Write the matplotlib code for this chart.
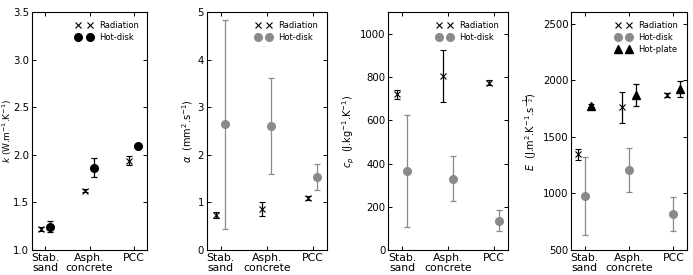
import matplotlib
matplotlib.use("Agg")
import matplotlib.pyplot as plt
from matplotlib.lines import Line2D
import numpy as np

categories = ["Stab.\nsand", "Asph.\nconcrete", "PCC"]

k_rad = [1.224, 1.624, 1.94]
k_rad_err = [0.02, 0.015, 0.045]
k_hd = [1.245, 1.866, 2.094]
k_hd_err = [0.06, 0.10, 0.02]

a_rad = [0.73, 0.865, 1.09]
a_rad_err = [0.06, 0.14, 0.04]
a_hd = [2.64, 2.60, 1.54]
a_hd_err = [2.2, 1.01, 0.27]

cp_rad = [720, 805, 775]
cp_rad_err = [22, 120, 10]
cp_hd = [365, 330, 136]
cp_hd_err = [260, 105, 50]

e_rad = [1345, 1760, 1870]
e_rad_err = [50, 140, 20]
e_hd = [980, 1210, 820]
e_hd_err = [345, 195, 150]
e_hp = [1772, 1870, 1920]
e_hp_err = [20, 100, 70]

W, H = 693, 275
fig = plt.figure(figsize=(W / 100, H / 100), dpi=100)

def pos(l, r, t=12.3, b=250):
    return [l / W, (H - b) / H, (r - l) / W, (b - t) / H]

axes = [fig.add_axes(pos(32, 147)), fig.add_axes(pos(206.7, 326.7)),
        fig.add_axes(pos(388.3, 507.7)), fig.add_axes(pos(571.3, 686.7))]

x = np.arange(1, 4)
GRAY = "#8a8a8a"
X_MS, O_MS, T_MS = 4.5, 5.5, 5.5

def rad(ax, y, e, dx):
    ax.errorbar(x + dx, y, yerr=e, fmt="x", color="black", ms=X_MS, mew=0.8,
                elinewidth=0.9, capsize=2, capthick=0.9)
    return Line2D([], [], ls="none", marker="x", color="black", ms=X_MS, mew=0.8,
                  label="Radiation")

def hd(ax, y, e, dx, c):
    ax.errorbar(x + dx, y, yerr=e, fmt="o", color=c, mec=c, ms=O_MS,
                elinewidth=0.9, capsize=2, capthick=0.9)
    return Line2D([], [], ls="none", marker="o", color=c, mec=c, ms=O_MS,
                  label="Hot-disk")

handles = []

ax = axes[0]
h = [rad(ax, k_rad, k_rad_err, -0.1), hd(ax, k_hd, k_hd_err, 0.1, "black")]
handles.append(h)
ax.set_ylim(1.0, 3.5)
ax.set_yticks([1.0, 1.5, 2.0, 2.5, 3.0, 3.5])
ax.set_ylabel(r"$k$ (W.m$^{-1}$.K$^{-1}$)", fontsize=6.5)
ax.yaxis.set_label_coords((14.5 - 32) / 115, 0.5)

ax = axes[1]
h = [rad(ax, a_rad, a_rad_err, -0.1), hd(ax, a_hd, a_hd_err, 0.1, GRAY)]
handles.append(h)
ax.set_ylim(0, 5)
ax.set_yticks([0, 1, 2, 3, 4, 5])
ax.set_ylabel(r"$\alpha$  (mm$^2$.s$^{-1}$)", fontsize=7, labelpad=2)

ax = axes[2]
h = [rad(ax, cp_rad, cp_rad_err, -0.1), hd(ax, cp_hd, cp_hd_err, 0.1, GRAY)]
handles.append(h)
ax.set_ylim(0, 1100)
ax.set_yticks([0, 200, 400, 600, 800, 1000])
ax.set_ylabel(r"$c_p$  (J.kg$^{-1}$.K$^{-1}$)", fontsize=7, labelpad=2)

ax = axes[3]
h = [rad(ax, e_rad, e_rad_err, -0.15), hd(ax, e_hd, e_hd_err, 0.0, GRAY)]
ax.errorbar(x + 0.15, e_hp, yerr=e_hp_err, fmt="^", color="black", ms=T_MS,
            elinewidth=0.9, capsize=2, capthick=0.9)
h.append(Line2D([], [], ls="none", marker="^", color="black", ms=T_MS,
                label="Hot-plate"))
handles.append(h)
ax.set_ylim(500, 2600)
ax.set_yticks([500, 1000, 1500, 2000, 2500])
ax.set_ylabel(r"$E$  (J.m$^{2}$.K$^{-1}$.s$^{-\frac{1}{2}}$)", fontsize=7, labelpad=3)

for ax, h in zip(axes, handles):
    ax.set_xlim(0.7, 3.3)
    ax.set_xticks(x)
    ax.set_xticklabels(categories, fontsize=7.8, linespacing=1.0)
    ax.tick_params(axis="y", labelsize=7.3)
    ax.tick_params(direction="in", top=True, right=True, length=3, width=0.7, pad=2)
    for s in ax.spines.values():
        s.set_linewidth(0.8)
    ax.legend(handles=h, loc="upper right", frameon=False, numpoints=2, fontsize=6,
              handlelength=2.0, handletextpad=0.8, borderaxespad=0.5,
              labelspacing=0.4, borderpad=0.5)

fig.savefig("out.png", dpi=100)
